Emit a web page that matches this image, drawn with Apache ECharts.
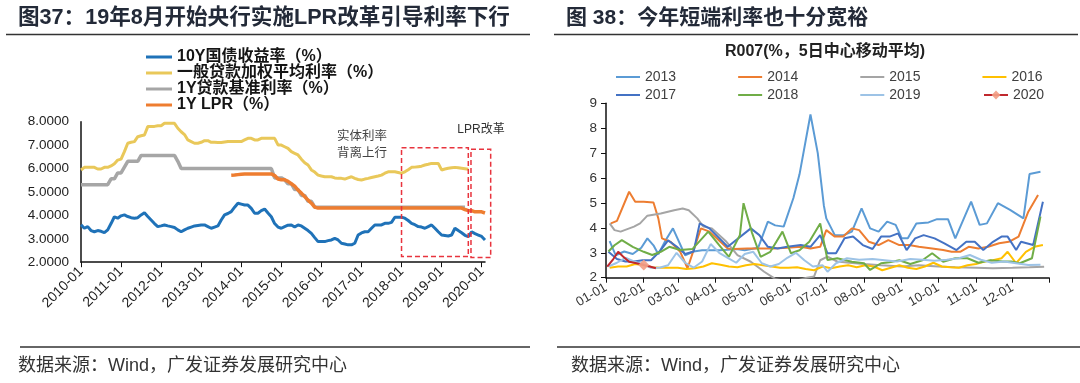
<!DOCTYPE html>
<html><head><meta charset="utf-8">
<script src="https://cdn.jsdelivr.net/npm/echarts@6/dist/echarts.min.js"></script>
<style>html,body{margin:0;padding:0;background:#fff}#c{width:1080px;height:383px}</style>
</head><body><div id="c"></div>
<script>
// ---------- Left chart (图37) : monthly, 2010-01 .. 2020-02 ----------
const months = [];
for (let y = 2010; y <= 2020; y++) {
  for (let m = 1; m <= 12; m++) {
    if (y === 2020 && m > 2) break;
    months.push(y + '-' + String(m).padStart(2, '0'));
  }
}
const leftNames = ['10Y国债收益率（%）', '一般贷款加权平均利率（%）', '1Y贷款基准利率（%）', '1Y LPR（%）'];
const yield10Y = [
  3.60,3.45,3.52,3.35,3.30,3.35,3.32,3.26,3.38,3.65,3.94,3.88,
  3.98,4.02,3.95,3.90,3.88,3.90,4.02,4.11,3.95,3.80,3.65,3.52,
  3.55,3.59,3.55,3.52,3.48,3.38,3.30,3.38,3.45,3.50,3.55,3.57,
  3.59,3.59,3.52,3.45,3.50,3.55,3.80,4.02,4.08,4.16,4.35,4.52,
  4.48,4.44,4.44,4.30,4.09,4.09,4.20,4.27,4.10,3.94,3.65,3.50,
  3.45,3.52,3.58,3.59,3.50,3.59,3.55,3.45,3.35,3.23,3.05,2.88,
  2.88,2.88,2.92,2.95,3.02,2.95,2.81,2.78,2.74,2.74,2.81,3.16,
  3.25,3.30,3.30,3.45,3.59,3.59,3.59,3.66,3.66,3.70,3.92,3.92,
  3.92,3.88,3.78,3.66,3.60,3.52,3.50,3.45,3.52,3.59,3.45,3.30,
  3.16,3.14,3.12,3.16,3.45,3.35,3.26,3.15,3.09,3.30,3.22,3.16,
  3.10,2.95];
const loanAvg = [
  5.94,6.05,6.05,6.05,6.05,5.98,5.98,6.05,6.05,6.11,6.20,6.36,
  6.40,6.72,7.08,7.12,7.15,7.36,7.40,7.43,7.79,7.80,7.80,7.83,
  7.83,7.93,7.93,7.93,7.93,7.72,7.57,7.45,7.22,7.15,7.08,7.08,
  7.12,7.19,7.19,7.12,7.12,7.11,7.11,7.13,7.15,7.15,7.15,7.15,
  7.15,7.22,7.29,7.29,7.22,7.22,7.29,7.29,7.29,7.29,7.29,7.01,
  7.00,6.93,6.86,6.72,6.65,6.58,6.40,6.25,6.15,5.94,5.85,5.72,
  5.68,5.65,5.65,5.65,5.60,5.58,5.58,5.55,5.60,5.65,5.58,5.53,
  5.51,5.55,5.58,5.62,5.65,5.68,5.72,5.80,5.86,5.86,5.86,5.83,
  5.80,5.86,5.95,6.05,6.06,6.08,6.10,6.15,6.18,6.22,6.22,6.22,
  5.94,5.98,6.01,6.03,6.05,6.03,6.01,5.99,5.97,null,null,null,
  null,null];
const benchmark1Y = [
  5.31,5.31,5.31,5.31,5.31,5.31,5.31,5.31,5.31,5.56,5.56,5.81,
  5.81,6.06,6.31,6.31,6.31,6.31,6.56,6.56,6.56,6.56,6.56,6.56,
  6.56,6.56,6.56,6.56,6.56,6.31,6.00,6.00,6.00,6.00,6.00,6.00,
  6.00,6.00,6.00,6.00,6.00,6.00,6.00,6.00,6.00,6.00,6.00,6.00,
  6.00,6.00,6.00,6.00,6.00,6.00,6.00,6.00,6.00,6.00,5.60,5.60,
  5.60,5.52,5.35,5.35,5.10,5.10,4.85,4.85,4.60,4.60,4.35,4.35,
  4.35,4.35,4.35,4.35,4.35,4.35,4.35,4.35,4.35,4.35,4.35,4.35,
  4.35,4.35,4.35,4.35,4.35,4.35,4.35,4.35,4.35,4.35,4.35,4.35,
  4.35,4.35,4.35,4.35,4.35,4.35,4.35,4.35,4.35,4.35,4.35,4.35,
  4.35,4.35,4.35,4.35,4.35,4.35,4.35,4.35,null,null,null,null,
  null,null];
const lpr1Y = [
  null,null,null,null,null,null,null,null,null,null,null,null,
  null,null,null,null,null,null,null,null,null,null,null,null,
  null,null,null,null,null,null,null,null,null,null,null,null,
  null,null,null,null,null,null,null,null,null,5.71,5.72,5.74,
  5.76,5.77,5.77,5.77,5.77,5.77,5.77,5.77,5.77,5.77,5.70,5.55,
  5.52,5.52,5.45,5.35,5.25,5.08,4.95,4.80,4.65,4.52,4.35,4.31,
  4.31,4.31,4.31,4.31,4.31,4.31,4.31,4.31,4.31,4.31,4.31,4.31,
  4.31,4.31,4.31,4.31,4.31,4.31,4.31,4.31,4.31,4.31,4.31,4.31,
  4.31,4.31,4.31,4.31,4.31,4.31,4.31,4.31,4.31,4.31,4.31,4.31,
  4.31,4.31,4.31,4.31,4.31,4.31,4.31,4.25,4.20,4.20,4.15,4.15,
  4.15,4.10];
const leftColors = ['#1f72b8', '#e9c85a', '#a6a6a6', '#ee7d30'];

// ---------- Right chart (图38) : R007 by calendar day ----------
const monthLen = [31,28,31,30,31,30,31,31,30,31,30,31];
const days = [];
monthLen.forEach((n, mi) => { for (let d = 1; d <= n; d++) days.push(String(mi + 1).padStart(2,'0') + '-' + String(d).padStart(2,'0')); });
const years = ['2013','2014','2015','2016','2017','2018','2019','2020'];
const yearColors = ['#5b9bd5','#ed7d31','#a5a5a5','#ffc000','#4472c4','#70ad47','#9dc3e6','#c0282d'];
const r2013 = [['01-04',3.47],['01-09',2.90],['01-16',3.05],['01-23',2.95],['01-30',3.20],['02-04',3.58],['02-09',3.30],['02-13',2.94],['02-19',3.50],['02-25',3.98],['03-07',2.90],['03-14',3.05],['03-21',3.10],['03-28',3.10],['04-04',3.10],['04-11',3.12],['04-18',3.15],['04-25',3.10],['05-06',3.20],['05-14',4.25],['05-20',4.10],['05-27',4.05],['06-04',5.20],['06-09',6.15],['06-18',8.55],['06-24',7.00],['06-29',4.90],['07-01',4.38],['07-08',3.71],['07-15',3.70],['07-22',3.85],['07-30',4.78],['08-06',3.98],['08-13',3.85],['08-20',4.25],['08-27',4.12],['09-01',3.58],['09-06',3.58],['09-13',4.18],['09-23',4.22],['09-30',4.35],['10-09',4.35],['10-15',3.58],['10-28',5.05],['11-04',4.12],['11-10',4.18],['11-19',4.99],['11-29',4.72],['12-10',4.38],['12-15',6.16],['12-24',6.25]];
const r2014 = [['01-05',4.18],['01-10',4.28],['01-20',5.45],['01-25',5.05],['02-01',5.05],['02-09',5.02],['02-13',4.38],['02-16',3.58],['02-23',3.44],['03-03',3.04],['03-09',2.38],['03-20',3.98],['03-27',3.85],['04-11',3.17],['04-16',3.15],['04-27',3.17],['05-08',3.17],['05-19',3.17],['05-30',3.20],['06-10',3.24],['06-18',3.17],['06-26',3.24],['07-01',3.91],['07-08',3.65],['07-15',3.65],['07-22',3.98],['07-28',3.91],['08-05',3.44],['08-13',3.31],['08-21',3.51],['08-30',3.31],['09-07',3.31],['09-15',3.24],['09-26',3.17],['10-05',3.11],['10-12',3.04],['10-19',3.04],['10-26',3.24],['11-03',3.17],['11-11',3.24],['11-20',3.38],['11-28',3.44],['12-06',3.65],['12-14',4.65],['12-22',5.32]];
const r2015 = [['01-04',4.18],['01-08',3.91],['01-13',3.85],['01-24',4.05],['01-29',4.18],['02-04',4.49],['02-15',4.58],['02-26',4.71],['03-05',4.78],['03-10',4.71],['03-17',4.38],['03-22',4.05],['03-29',3.98],['04-10',3.44],['04-19',2.91],['04-30',2.64],['05-11',2.24],['05-20',1.95],['05-30',1.85],['06-08',1.90],['06-15',2.00],['06-21',2.05],['06-26',2.70],['07-02',2.85],['07-10',2.65],['07-20',2.60],['08-01',2.55],['08-15',2.50],['09-01',2.45],['09-15',2.50],['10-01',2.45],['10-15',2.42],['11-01',2.40],['11-15',2.38],['12-01',2.40],['12-15',2.42],['12-27',2.44]];
const r2016 = [['01-04',2.40],['01-11',2.45],['01-18',2.45],['01-25',2.55],['02-01',2.50],['02-08',2.42],['02-15',2.40],['02-22',2.40],['03-01',2.40],['03-08',2.35],['03-15',2.38],['03-22',2.45],['03-29',2.58],['04-05',2.52],['04-12',2.45],['04-19',2.42],['04-26',2.50],['05-03',2.55],['05-10',2.50],['05-17',2.45],['05-24',2.40],['05-31',2.40],['06-07',2.42],['06-14',2.35],['06-21',2.30],['06-28',2.45],['07-05',2.38],['07-12',2.45],['07-19',2.50],['07-26',2.42],['08-02',2.50],['08-09',2.45],['08-16',2.30],['08-23',2.40],['08-30',2.50],['09-06',2.40],['09-13',2.35],['09-20',2.45],['09-27',2.60],['10-04',2.45],['10-11',2.42],['10-18',2.40],['10-25',2.50],['11-01',2.55],['11-08',2.65],['11-15',2.70],['11-22',2.78],['11-27',3.04],['12-04',2.58],['12-12',3.04],['12-19',3.24],['12-26',3.31]];
const r2017 = [['01-03',3.04],['01-10',2.75],['01-17',2.65],['01-24',2.65],['01-31',2.70],['02-07',2.70],['02-14',3.05],['02-21',3.50],['02-28',3.25],['03-07',2.95],['03-14',3.05],['03-19',4.18],['03-27',3.98],['04-11',3.24],['04-30',3.98],['05-07',3.71],['05-14',3.24],['05-22',3.17],['05-30',3.24],['06-10',3.31],['06-18',3.24],['06-26',3.71],['07-02',2.98],['07-09',2.98],['07-16',3.58],['07-23',3.65],['07-31',3.31],['08-08',3.15],['08-15',3.65],['08-22',3.65],['08-29',3.78],['09-05',3.11],['09-12',3.58],['09-19',3.71],['09-28',3.58],['10-06',3.38],['10-16',3.11],['10-24',3.44],['10-31',3.44],['11-07',3.11],['11-15',3.44],['11-22',3.65],['11-27',3.65],['12-04',3.11],['12-08',3.44],['12-18',3.31],['12-26',5.05]];
const r2018 = [['01-03',3.05],['01-08',3.30],['01-14',3.51],['01-23',3.24],['02-01',3.04],['02-08',2.91],['02-15',3.04],['02-22',3.24],['03-03',3.11],['03-13',3.15],['03-26',3.85],['04-04',3.31],['04-12',2.84],['04-21',3.71],['04-24',4.99],['05-01',3.80],['05-08',2.84],['05-16',3.04],['05-26',3.85],['06-02',2.98],['06-09',3.10],['06-17',3.44],['06-26',4.18],['07-02',2.71],['07-10',2.78],['07-22',2.64],['08-01',2.58],['08-06',2.31],['08-15',2.58],['08-22',2.62],['08-30',2.70],['09-08',2.55],['09-18',2.70],['09-26',2.98],['10-05',2.64],['10-15',2.78],['10-25',2.78],['11-03',2.60],['11-13',2.70],['11-23',2.65],['11-30',2.65],['12-07',2.58],['12-17',2.78],['12-24',4.45]];
const r2019 = [['01-03',2.45],['01-10',2.60],['01-17',2.80],['01-24',2.65],['01-31',2.55],['02-07',2.40],['02-14',2.40],['02-21',2.50],['02-28',3.00],['03-07',2.60],['03-14',2.40],['03-21',2.65],['03-28',3.35],['04-04',3.00],['04-11',2.80],['04-18',2.60],['04-25',2.95],['05-02',3.04],['05-09',2.58],['05-16',2.45],['05-23',2.55],['05-30',2.80],['06-06',3.00],['06-13',2.70],['06-20',2.45],['06-28',2.50],['07-02',2.24],['07-09',2.58],['07-18',2.78],['07-28',2.72],['08-08',2.75],['08-18',2.70],['08-28',2.65],['09-08',2.75],['09-18',2.72],['09-28',2.68],['10-08',2.72],['10-18',2.78],['10-27',2.91],['11-05',2.72],['11-14',2.60],['11-24',2.65],['12-04',2.58],['12-14',2.51],['12-24',2.52]];
const r2020 = [['01-02',2.44],['01-07',2.75],['01-11',3.04],['01-15',2.85],['01-20',2.64],['01-26',2.58],['02-01',2.51],['02-06',2.45],['02-11',2.38]];
const yearData = [r2013, r2014, r2015, r2016, r2017, r2018, r2019, r2020];

// ---------- chart ----------
const FONT = '"Liberation Sans","Noto Sans CJK SC",sans-serif';
const chart = echarts.init(document.getElementById('c'), null, {renderer: 'canvas'});

const leftSeries = [yield10Y, loanAvg, benchmark1Y, lpr1Y].map((d, i) => ({
  name: leftNames[i], type: 'line', xAxisIndex: 0, yAxisIndex: 0, data: d,
  symbol: 'none', connectNulls: false,
  lineStyle: {color: leftColors[i], width: i >= 2 ? 3.5 : 3},
  itemStyle: {color: leftColors[i]}
}));
const rightSeries = yearData.map((d, i) => {
  const is2020 = i === 7;
  return {
    name: years[i], type: 'line', xAxisIndex: 1, yAxisIndex: 1, data: d,
    symbol: is2020 ? 'diamond' : 'none', symbolSize: 11, showSymbol: is2020,
    lineStyle: {color: yearColors[i], width: 2},
    itemStyle: {color: is2020 ? 'rgba(242,160,135,0.92)' : yearColors[i]}
  };
});

const graphics = [
  {id:'t1', type:'text', x:18, y:18, style:{text:'图37：19年8月开始央行实施LPR改革引导利率下行', font:'bold 21.6px ' + FONT, fill:'#232a38', verticalAlign:'middle'}},
  {id:'t2', type:'text', x:566, y:18, style:{text:'图 38：今年短端利率也十分宽裕', font:'bold 21px ' + FONT, fill:'#232a38', verticalAlign:'middle'}},
  {id:'l1', type:'line', shape:{x1:6, y1:34.5, x2:530, y2:34.5}, style:{stroke:'#333', lineWidth:1.3}},
  {id:'l2', type:'line', shape:{x1:554, y1:34.5, x2:1078, y2:34.5}, style:{stroke:'#333', lineWidth:1.3}},
  {id:'l3', type:'line', shape:{x1:20, y1:347, x2:530, y2:347}, style:{stroke:'#333', lineWidth:1.3}},
  {id:'l4', type:'line', shape:{x1:557, y1:347, x2:1080, y2:347}, style:{stroke:'#333', lineWidth:1.3}},
  {id:'f1', type:'text', x:18, y:366, style:{text:'数据来源：Wind，广发证券发展研究中心', font:'18px ' + FONT, fill:'#333', verticalAlign:'middle'}},
  {id:'f2', type:'text', x:571, y:366, style:{text:'数据来源：Wind，广发证券发展研究中心', font:'18px ' + FONT, fill:'#333', verticalAlign:'middle'}},
  {id:'rt', type:'text', x:825, y:52, style:{text:'R007(%，5日中心移动平均)', font:'bold 16px ' + FONT, fill:'#222', align:'center', verticalAlign:'middle'}},
  {id:'a1', type:'text', x:362, y:137, style:{text:'实体利率', font:'12.5px ' + FONT, fill:'#444', align:'center', verticalAlign:'middle'}},
  {id:'a2', type:'text', x:362, y:154, style:{text:'背离上行', font:'12.5px ' + FONT, fill:'#444', align:'center', verticalAlign:'middle'}},
  {id:'a3', type:'text', x:481, y:130, style:{text:'LPR改革', font:'12px ' + FONT, fill:'#333', align:'center', verticalAlign:'middle'}}
];

const axisBase = {
  axisLine: {show: true, lineStyle: {color: '#111', width: 1.5}},
  splitLine: {show: false}
};
const rLegendText = {fontSize: 14, color: '#404040', fontFamily: FONT, lineHeight: 14};

const option = {
  animation: false,
  backgroundColor: '#fff',
  grid: [
    {left: 81, right: 595, top: 121.7, bottom: 120.8, outerBoundsMode: 'none', containLabel: false},
    {left: 606, right: 31, top: 103.3, bottom: 105.3, outerBoundsMode: 'none', containLabel: false}
  ],
  xAxis: [
    Object.assign({}, axisBase, {
      type: 'category', gridIndex: 0, data: months, boundaryGap: false,
      axisTick: {show: true, length: 5, interval: (i, v) => v.endsWith('-01'), lineStyle: {color: '#111'}},
      axisLabel: {interval: (i, v) => v.endsWith('-01'), rotate: 45, fontSize: 14, color: '#222', fontFamily: FONT, margin: 7}
    }),
    Object.assign({}, axisBase, {
      type: 'category', gridIndex: 1, data: days, boundaryGap: false,
      axisTick: {show: true, length: 5, interval: (i, v) => v.endsWith('-01') || i === days.length - 1, lineStyle: {color: '#111'}},
      axisLabel: {interval: (i, v) => v.endsWith('-01'), rotate: 30, fontSize: 13, color: '#333', fontFamily: FONT, margin: 9}
    })
  ],
  yAxis: [
    Object.assign({}, axisBase, {
      type: 'value', gridIndex: 0, min: 2, max: 8, interval: 1,
      axisTick: {show: false},
      axisLabel: {formatter: v => v.toFixed(4), fontSize: 13.5, color: '#222', fontFamily: FONT, margin: 12}
    }),
    Object.assign({}, axisBase, {
      type: 'value', gridIndex: 1, min: 2, max: 9, interval: 1,
      axisTick: {show: true, length: 5, lineStyle: {color: '#111'}},
      axisLabel: {fontSize: 13.5, color: '#333', fontFamily: FONT, margin: 9}
    })
  ],
  legend: [
    {data: leftNames, orient: 'vertical', left: 141, top: 44, itemWidth: 26, itemHeight: 3, icon: 'rect', itemGap: 0,
     textStyle: {fontSize: 16, fontWeight: 'bold', color: '#151515', fontFamily: FONT, lineHeight: 15.6}},
    {data: years.slice(0, 4), orient: 'horizontal', left: 611, top: 65, itemWidth: 24, itemHeight: 2, icon: 'rect', itemGap: 62,
     textStyle: rLegendText},
    {data: years.slice(4, 7), orient: 'horizontal', left: 611, top: 83, itemWidth: 24, itemHeight: 2, icon: 'rect', itemGap: 62,
     textStyle: rLegendText},
    {data: years.slice(7), orient: 'horizontal', left: 978, top: 83, itemWidth: 24, itemHeight: 11,
     textStyle: rLegendText}
  ],
  series: leftSeries.concat(rightSeries),
  graphic: graphics
};
chart.setOption(option);

// red dashed annotation boxes, placed through the left chart's own scales
const ix = name => months.indexOf(name);
const p = (i, v) => chart.convertToPixel({gridIndex: 0}, [i, v]);
const a = p(ix('2018-01'), 6.89), b = p(ix('2019-09'), 2.24);
const step = p(ix('2020-02'), 2)[0] - p(ix('2020-01'), 2)[0];
const c2 = p(ix('2019-09'), 6.82), d2 = p(ix('2020-02'), 2.2);
const boxStyle = {fill: 'none', stroke: '#e8343e', lineWidth: 1.5, lineDash: [5, 3]};
chart.setOption({graphic: [
  {id: 'box1', type: 'rect', shape: {x: a[0], y: a[1], width: b[0] - a[0], height: b[1] - a[1]}, style: boxStyle, z: 10},
  {id: 'box2', type: 'rect', shape: {x: c2[0] + 0.8 * step, y: c2[1], width: d2[0] + 1.7 * step - (c2[0] + 0.8 * step), height: d2[1] - c2[1]}, style: boxStyle, z: 10}
]});
</script></body></html>
